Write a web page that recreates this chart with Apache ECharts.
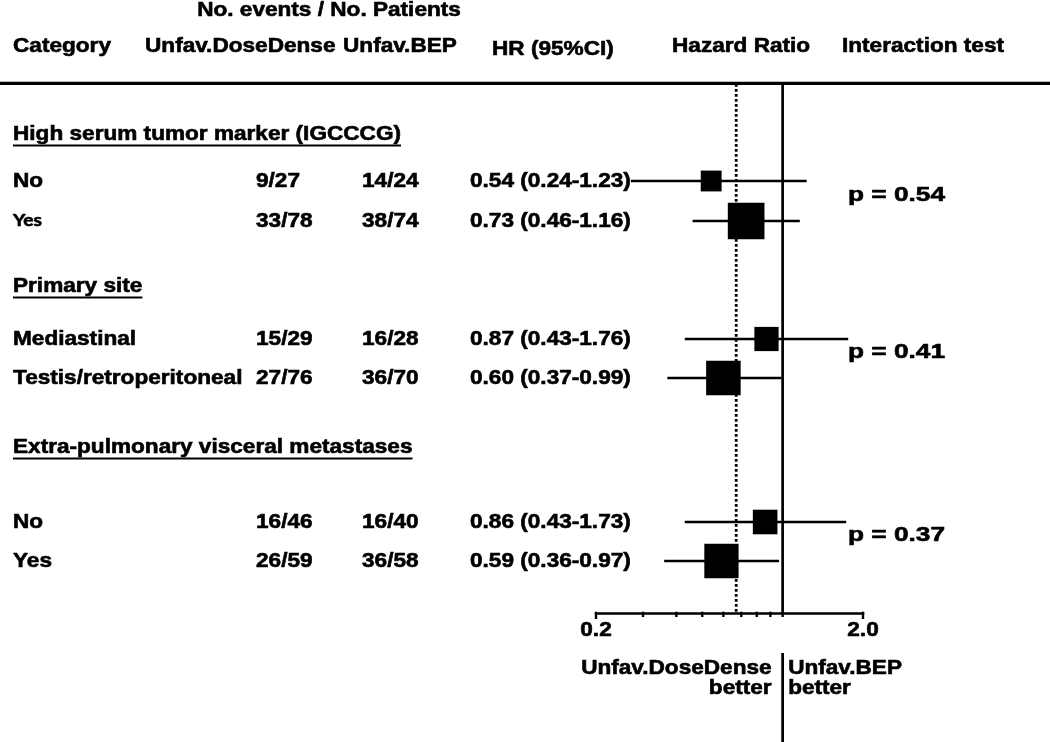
<!DOCTYPE html>
<html><head><meta charset="utf-8">
<script src="https://cdn.jsdelivr.net/npm/echarts@6/dist/echarts.min.js"></script>
<style>html,body{margin:0;padding:0;background:#fff}#chart{width:1050px;height:742px}</style>
</head><body><div id="chart"></div>
<script>
// ---------------- DATA ----------------
const sectionTitles = ['High serum tumor marker (IGCCCG)', 'Primary site', 'Extra-pulmonary visceral metastases'];
const rowLabels = ['No', 'Yes', 'Mediastinal', 'Testis/retroperitoneal', 'No', 'Yes'];
const eventsDoseDense = [9, 33, 15, 27, 16, 26];
const patientsDoseDense = [27, 78, 29, 76, 46, 59];
const eventsBEP = [14, 38, 16, 36, 16, 36];
const patientsBEP = [24, 74, 28, 70, 40, 58];
const hr = [0.54, 0.73, 0.87, 0.60, 0.86, 0.59];
const ciLow = [0.24, 0.46, 0.43, 0.37, 0.43, 0.36];
const ciHigh = [1.23, 1.16, 1.76, 0.99, 1.73, 0.97];
const interactionP = ['0.54', '0.41', '0.37'];
const nullHR = 1.0;
const overallHR = 0.67;
const xTickMajor = [0.2, 2.0];
const xTickMajorLabels = ['0.2', '2.0'];
const xTickMinor = [0.3, 0.4, 0.5, 0.6, 0.7, 0.8, 0.9, 1.0];
const headerTitles = ['No. events / No. Patients', 'Category', 'Unfav.DoseDense', 'Unfav.BEP', 'HR (95%CI)', 'Hazard Ratio', 'Interaction test'];
const favourLeft = ['Unfav.DoseDense', 'better'];
const favourRight = ['Unfav.BEP', 'better'];

// ---------------- LAYOUT / STYLE ----------------
const PLOT_H = 529;                       // y axis span (layout units = px inside grid)
const LAYOUT = {
  sectionY: [50, 202, 363],
  rowY: [97, 137, 255, 294, 438, 477],
  pY: [111, 268, 451],
  colLabel: 13, colEv1: 256, colEv2: 362, colHR: 470, colP: 848
};
const FAMILY = '"Liberation Sans", Arial, Helvetica, sans-serif';
const SX = 1.13;
const BODY_FONT = 'bold 20px ' + FAMILY;
const P_FONT = 'bold 21px ' + FAMILY;
const ALT_FONT = 'bold 17px Lato, "Open Sans", sans-serif';
const rowLabelFont = [BODY_FONT, ALT_FONT, BODY_FONT, BODY_FONT, BODY_FONT, BODY_FONT];

const mctx = document.createElement('canvas').getContext('2d');
function textWidth(t, f) { mctx.font = f; return mctx.measureText(t).width; }

function T(text, x, y, align, fontStr, bg, sx) {
  const style = {
    text: text, font: fontStr || BODY_FONT, fill: '#000',
    stroke: '#000', lineWidth: 0.6,
    align: align || 'left', verticalAlign: 'middle',
    textAlign: align || 'left', textVerticalAlign: 'middle'
  };
  if (bg) { style.backgroundColor = bg; }
  return { type: 'text', x: x, y: y, scaleX: sx || SX, scaleY: 1, style: style };
}

const chart = echarts.init(document.getElementById('chart'), null, { renderer: 'canvas' });

const headerGraphics = [
  { type: 'line', shape: { x1: 0, y1: 83.3, x2: 1050, y2: 83.3 }, style: { stroke: '#000', lineWidth: 3.3 } },
  T(headerTitles[0], 329, 10, 'center'),
  T(headerTitles[1], 13, 46, 'left'),
  T(headerTitles[2], 145, 46, 'left'),
  T(headerTitles[3], 343, 46, 'left'),
  T(headerTitles[4], 492, 49, 'left'),
  T(headerTitles[5], 672, 46, 'left'),
  T(headerTitles[6], 842, 46, 'left')
];

const option = {
  animation: false,
  backgroundColor: '#fff',
  grid: { left: 596, right: 187, top: 84, bottom: 129, containLabel: false },
  xAxis: {
    type: 'log', logBase: 10, min: 0.2, max: 2, position: 'bottom',
    axisLine: { show: true, onZero: false, lineStyle: { color: '#000', width: 2.7 } },
    axisTick: { show: false }, axisLabel: { show: false }, splitLine: { show: false }
  },
  yAxis: { type: 'value', min: 0, max: PLOT_H, inverse: true, show: false },
  graphic: headerGraphics,
  series: [
    { // reference lines (no effect / overall)
      type: 'custom', z: 1, clip: false,
      data: [[nullHR, 0, 0], [overallHR, 0, 1]],
      renderItem: function (params, api) {
        const p1 = api.coord([api.value(0), 0]);
        const p2 = api.coord([api.value(0), PLOT_H]);
        const dotted = api.value(2) === 1;
        return { type: 'line', shape: { x1: p1[0], y1: p1[1], x2: p2[0], y2: p2[1] },
          style: dotted ? { stroke: '#000', lineWidth: 2.8, lineDash: [2.8, 2.2] } : { stroke: '#000', lineWidth: 2.7 } };
      }
    },
    { // confidence intervals
      type: 'custom', z: 2, clip: false,
      data: hr.map((v, i) => [ciLow[i], LAYOUT.rowY[i], ciHigh[i]]),
      encode: { x: [0, 2], y: 1 },
      renderItem: function (params, api) {
        const p1 = api.coord([api.value(0), api.value(1)]);
        const p2 = api.coord([api.value(2), api.value(1)]);
        return { type: 'line', shape: { x1: p1[0], y1: p1[1], x2: p2[0], y2: p2[1] },
          style: { stroke: '#000', lineWidth: 2.4 } };
      }
    },
    { // hazard ratio squares
      type: 'scatter', z: 3,
      symbol: 'rect',
      data: hr.map((v, i) => [v, LAYOUT.rowY[i], eventsDoseDense[i] + eventsBEP[i]]),
      symbolSize: function (val) { return 4.35 * Math.sqrt(val[2]); },
      itemStyle: { color: '#000', opacity: 1 }
    },
    { // table rows
      type: 'custom', z: 4, clip: false,
      data: rowLabels.map((v, i) => [1, LAYOUT.rowY[i]]),
      renderItem: function (params, api) {
        const i = params.dataIndex;
        const y = api.coord([1, api.value(1)])[1];
        const hrText = hr[i].toFixed(2) + ' (' + ciLow[i].toFixed(2) + '-' + ciHigh[i].toFixed(2) + ')';
        return { type: 'group', children: [
          T(rowLabels[i], LAYOUT.colLabel, y, 'left', rowLabelFont[i]),
          T(eventsDoseDense[i] + '/' + patientsDoseDense[i], LAYOUT.colEv1, y, 'left'),
          T(eventsBEP[i] + '/' + patientsBEP[i], LAYOUT.colEv2, y, 'left'),
          T(hrText, LAYOUT.colHR, y, 'left', BODY_FONT, '#fff')
        ] };
      }
    },
    { // section titles (underlined)
      type: 'custom', z: 4, clip: false,
      data: sectionTitles.map((v, i) => [1, LAYOUT.sectionY[i]]),
      renderItem: function (params, api) {
        const i = params.dataIndex;
        const y = api.coord([1, api.value(1)])[1];
        const w = textWidth(sectionTitles[i], BODY_FONT) * SX;
        return { type: 'group', children: [
          T(sectionTitles[i], LAYOUT.colLabel, y, 'left'),
          { type: 'line', shape: { x1: LAYOUT.colLabel, y1: y + 11.5, x2: LAYOUT.colLabel + w, y2: y + 11.5 },
            style: { stroke: '#000', lineWidth: 2 } }
        ] };
      }
    },
    { // interaction test p-values
      type: 'custom', z: 4, clip: false,
      data: interactionP.map((v, i) => [1, LAYOUT.pY[i]]),
      renderItem: function (params, api) {
        const i = params.dataIndex;
        const y = api.coord([1, api.value(1)])[1];
        return T('p = ' + interactionP[i], LAYOUT.colP, y, 'left', P_FONT, null, 1.25);
      }
    },
    { // axis ticks
      type: 'custom', z: 4, clip: false,
      data: xTickMajor.map(v => [v, PLOT_H, 1]).concat(xTickMinor.map(v => [v, PLOT_H, 0])),
      renderItem: function (params, api) {
        const p = api.coord([api.value(0), api.value(1)]);
        const len = api.value(2) === 1 ? 6 : 4;
        return { type: 'line', shape: { x1: p[0], y1: p[1] - 1.3, x2: p[0], y2: p[1] + len },
          style: { stroke: '#000', lineWidth: 2.4 } };
      }
    },
    { // axis labels
      type: 'custom', z: 4, clip: false,
      data: xTickMajor.map(v => [v, PLOT_H]),
      renderItem: function (params, api) {
        const p = api.coord([api.value(0), api.value(1)]);
        return T(xTickMajorLabels[params.dataIndex], p[0], p[1] + 17, 'center');
      }
    },
    { // favours labels under the axis
      type: 'custom', z: 4, clip: false,
      data: [[nullHR, PLOT_H]],
      renderItem: function (params, api) {
        const p = api.coord([api.value(0), api.value(1)]);
        return { type: 'group', children: [
          { type: 'line', shape: { x1: p[0], y1: p[1] + 40, x2: p[0], y2: p[1] + 130 },
            style: { stroke: '#000', lineWidth: 2.7 } },
          T(favourLeft[0], p[0] - 11, p[1] + 55, 'right'),
          T(favourLeft[1], p[0] - 11, p[1] + 75, 'right'),
          T(favourRight[0], p[0] + 5.5, p[1] + 55, 'left'),
          T(favourRight[1], p[0] + 5.5, p[1] + 75, 'left')
        ] };
      }
    }
  ]
};
chart.setOption(option);
</script>
</body></html>
